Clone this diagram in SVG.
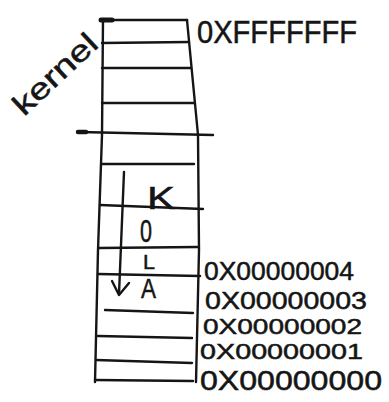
<svg xmlns="http://www.w3.org/2000/svg" width="389" height="402" viewBox="0 0 389 402">
<style>
.ln{fill:none;stroke:#151515;stroke-width:2.4;stroke-linecap:round;stroke-linejoin:round}
.t{font-family:"Liberation Sans","DejaVu Sans",sans-serif;fill:#151515;stroke:#151515;stroke-width:0.5}
</style>
<rect width="389" height="402" fill="#ffffff"/>
<g id="stack">
<polyline class="ln" points="103,20 102,135 98,250 95,382"/>
<polyline class="ln" points="187,20 198,135 199,250 196,382"/>
<line class="ln" x1="103" y1="20" x2="187" y2="20" style="stroke-width:2.6"/>
<line class="ln" x1="101" y1="20" x2="112" y2="20" style="stroke-width:5"/>
<line class="ln" x1="102" y1="43" x2="189" y2="42"/>
<line class="ln" x1="102" y1="68" x2="191" y2="68"/>
<line class="ln" x1="102" y1="103" x2="194" y2="103"/>
<line class="ln" x1="80" y1="132" x2="213" y2="135"/>
<line class="ln" x1="78" y1="132" x2="86" y2="132" style="stroke-width:4.5"/>
<line class="ln" x1="102" y1="164" x2="194" y2="164"/>
<line class="ln" x1="100" y1="205" x2="203" y2="209"/>
<line class="ln" x1="99" y1="248" x2="198" y2="247"/>
<line class="ln" x1="98" y1="274" x2="200" y2="276"/>
<line class="ln" x1="105" y1="310" x2="193" y2="313"/>
<line class="ln" x1="98" y1="336" x2="192" y2="338"/>
<line class="ln" x1="96" y1="360" x2="192" y2="363"/>
<line class="ln" x1="95" y1="380" x2="193" y2="381"/>
</g>
<g id="connectors">
<polyline class="ln" points="124,172 119,294"/>
<polyline class="ln" points="112,281 119,295 129,283"/>
</g>
<g id="stack-letters">
<text class="t" x="147" y="209" font-size="32" textLength="28" lengthAdjust="spacingAndGlyphs">K</text>
<text class="t" x="140" y="242" font-size="31" textLength="12" lengthAdjust="spacingAndGlyphs">0</text>
<text class="t" x="143" y="269" font-size="20" textLength="12" lengthAdjust="spacingAndGlyphs">L</text>
<text class="t" x="141" y="298" font-size="28" textLength="15" lengthAdjust="spacingAndGlyphs">A</text>
</g>
<g id="kernel-label">
<text class="t" x="24" y="117" font-size="30" transform="rotate(-43 24 117)" textLength="104" lengthAdjust="spacingAndGlyphs">kernel</text>
</g>
<g id="addresses">
<text class="t" x="197" y="43" font-size="31" textLength="160" lengthAdjust="spacingAndGlyphs">0XFFFFFFF</text>
<text class="t" x="204" y="280" font-size="25" textLength="150" lengthAdjust="spacingAndGlyphs">0X00000004</text>
<text class="t" x="205" y="309" font-size="24" textLength="162" lengthAdjust="spacingAndGlyphs">0X00000003</text>
<text class="t" x="203" y="334" font-size="22" textLength="159" lengthAdjust="spacingAndGlyphs">0X00000002</text>
<text class="t" x="200" y="359" font-size="22" textLength="163" lengthAdjust="spacingAndGlyphs">0X00000001</text>
<text class="t" x="200" y="390" font-size="27" textLength="182" lengthAdjust="spacingAndGlyphs">0X00000000</text>
</g>
</svg>
